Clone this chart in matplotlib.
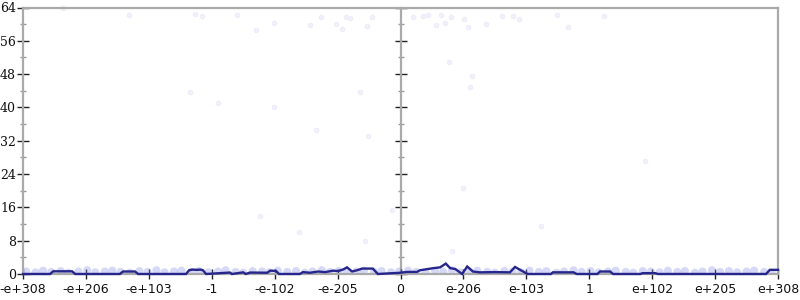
import numpy as np
import matplotlib
matplotlib.use("Agg")
import matplotlib.pyplot as plt
from matplotlib.ticker import MultipleLocator

# x axis is an ordinal scale of float magnitudes, one unit per label
tick_pos = [-6, -5, -4, -3, -2, -1, 0, 1, 2, 3, 4, 5, 6]
tick_labels = ['-e+308', '-e+206', '-e+103', '-1', '-e-102', '-e-205', '0',
               'e-206', 'e-103', '1', 'e+102', 'e+205', 'e+308']

# smoothed count line
line_x = [-6.0, -5.57, -5.52, -5.22, -5.17, -4.46, -4.41, -4.22, -4.17, -3.41,
          -3.36, -3.31, -3.23, -3.18, -3.14, -3.09, -2.98, -2.71, -2.68, -2.50,
          -2.46, -2.39, -2.12, -2.07, -1.98, -1.93, -1.60, -1.55, -1.44, -1.31,
          -1.20, -1.07, -0.99, -0.91, -0.85, -0.77, -0.69, -0.61, -0.44, -0.36,
          0.0, 0.10, 0.26, 0.31, 0.52, 0.63, 0.72, 0.79, 0.87, 0.98,
          1.06, 1.15, 1.26, 1.50, 1.74, 1.82, 1.90, 2.02, 2.39, 2.42,
          2.75, 2.80, 3.13, 3.17, 3.33, 3.38, 3.81, 3.85, 4.05, 4.09,
          5.81, 5.87, 6.0]
line_y = [0.0, 0.0, 0.65, 0.65, 0.0, 0.0, 0.6, 0.6, 0.0, 0.0,
          0.9, 1.05, 1.0, 1.05, 0.9, 0.0, 0.1, 0.35, 0.0, 0.4,
          0.0, 0.35, 0.3, 0.8, 0.75, 0.0, 0.0, 0.45, 0.3, 0.6,
          0.45, 0.8, 0.7, 1.1, 1.6, 0.6, 0.9, 1.3, 1.3, 0.0,
          0.3, 0.5, 0.5, 0.9, 1.4, 1.6, 2.5, 1.4, 1.2, 0.0,
          1.8, 0.6, 0.4, 0.45, 0.4, 1.7, 1.0, 0.0, 0.0, 0.4,
          0.4, 0.0, 0.0, 0.6, 0.6, 0.0, 0.0, 0.2, 0.2, 0.0,
          0.0, 1.0, 1.0]

# sparse raw samples high up
pts_x = [-5.36, -4.31, -3.26, -3.15, -2.60, -2.29, -2.01, -1.44, -1.26, -1.03,
         -0.93, -0.87, -0.80, -0.53, -0.46, -3.34, -2.90, -2.01, -0.64, -1.34,
         -0.52, -2.23, -1.61, -0.56, -0.14,
         0.20, 0.35, 0.43, 0.65, 0.80, 1.01, 0.56, 0.71, 1.08, 1.36,
         1.61, 1.79, 1.88, 2.48, 2.66, 3.24, 0.77, 1.13, 1.11, 3.88,
         0.99, 2.23, 0.82]
pts_y = [63.9, 62.2, 62.5, 61.9, 62.1, 58.7, 60.2, 59.7, 61.8, 60.1,
         58.8, 61.8, 61.5, 59.6, 61.8, 43.7, 41.0, 40.2, 43.6, 34.7,
         33.1, 14.0, 10.2, 7.9, 15.4,
         61.6, 61.9, 62.3, 62.1, 61.8, 61.2, 59.9, 60.2, 59.2, 60.1,
         62.0, 61.9, 61.2, 62.2, 59.4, 62.0, 50.8, 47.5, 44.8, 27.1,
         20.7, 11.5, 5.5]

# dense raw samples near zero
band_x = [-5.95, -5.8, -5.68, -5.55, -5.4, -5.28, -5.12, -4.98, -4.85, -4.7,
          -4.58, -4.45, -4.3, -4.15, -4.02, -3.88, -3.75, -3.6, -3.48, -3.32,
          -3.2, -3.05, -2.9, -2.78, -2.62, -2.5, -2.35, -2.2, -2.08, -1.95,
          -1.8, -1.66, -1.52, -1.4, -1.25, -1.12, -0.98, -0.85, -0.7, -0.58,
          -0.42, -0.3, -0.15, -0.02, 0.12, 0.25, 0.4, 0.55, 0.68, 0.82,
          0.95, 1.1, 1.22, 1.38, 1.5, 1.65, 1.78, 1.92, 2.05, 2.2,
          2.32, 2.48, 2.6, 2.75, 2.88, 3.02, 3.15, 3.3, 3.42, 3.58,
          3.7, 3.85, 3.98, 4.12, 4.25, 4.4, 4.52, 4.68, 4.8, 4.95,
          5.08, 5.22, 5.35, 5.5, 5.62, 5.78, 5.9]
band_y = [0.6, 0.4, 0.8, 0.5, 0.7, 0.3, 0.6, 0.9, 0.4, 0.6,
          0.8, 0.5, 0.3, 0.7, 0.5, 0.9, 0.4, 0.6, 0.8, 0.5,
          0.7, 0.4, 0.6, 0.9, 0.5, 0.3, 0.7, 0.6, 0.4, 0.8,
          0.5, 0.7, 0.3, 0.6, 0.9, 0.5, 0.7, 0.4, 0.6, 0.8,
          0.5, 0.7, 0.4, 0.6, 0.8, 0.5, 0.3, 0.7, 0.5, 0.9,
          0.4, 0.6, 0.8, 0.5, 0.3, 0.7, 0.6, 0.4, 0.8, 0.5,
          0.7, 0.3, 0.6, 0.9, 0.5, 0.7, 0.4, 0.6, 0.8, 0.5,
          0.3, 0.7, 0.6, 0.4, 0.8, 0.5, 0.7, 0.3, 0.6, 0.9,
          0.5, 0.7, 0.4, 0.6, 0.8, 0.5, 0.3]

fig = plt.figure(figsize=(8, 3), dpi=100)
ax = fig.add_axes([23 / 800, 26 / 300, 755 / 800, 266.5 / 300])

ax.scatter(pts_x, pts_y, s=12, color='#f1f1fc', edgecolors='#ebebfa',
           linewidths=0.5, zorder=2, clip_on=False)
ax.scatter(band_x, band_y, s=34, marker='o', color='#8a90ea', alpha=0.35,
           edgecolors='none', zorder=2, clip_on=True)
ax.plot(line_x, line_y, color='#26268c', linewidth=1.7, zorder=4,
        solid_joinstyle='miter', clip_on=False)

ax.set_xlim(-6, 6)
ax.set_ylim(0, 64)

ax.set_xticks(tick_pos)
ax.set_xticklabels(tick_labels, fontsize=9, family='DejaVu Sans')
ax.yaxis.set_major_locator(MultipleLocator(8))
ax.yaxis.set_minor_locator(MultipleLocator(4))
for lab in ax.get_yticklabels():
    lab.set_family('DejaVu Serif')
    lab.set_fontsize(9)

for side in ['left', 'right', 'top', 'bottom']:
    ax.spines[side].set_color('#aaaaaa')
    ax.spines[side].set_linewidth(1.6)

ax.tick_params(axis='x', direction='inout', length=7, width=1, color='#222222',
               pad=3, labelcolor='#111111')
ax.tick_params(axis='y', which='major', direction='inout', length=8, width=1,
               color='#222222', pad=1, right=True, labelcolor='#111111')
ax.tick_params(axis='y', which='minor', direction='inout', length=4, width=1,
               color='#999999', right=True)

# middle axis at zero
mid = ax.twinx()
mid.set_ylim(0, 64)
mid.spines['right'].set_position(('data', 0))
mid.spines['right'].set_color('#aaaaaa')
mid.spines['right'].set_linewidth(1.6)
for side in ['left', 'top', 'bottom']:
    mid.spines[side].set_visible(False)
mid.yaxis.set_major_locator(MultipleLocator(8))
mid.yaxis.set_minor_locator(MultipleLocator(4))
mid.tick_params(axis='y', which='major', direction='inout', length=8, width=1,
                color='#222222', labelright=False)
mid.tick_params(axis='y', which='minor', direction='inout', length=4, width=1,
                color='#999999')
mid.set_zorder(0)
ax.set_zorder(1)
ax.patch.set_visible(False)

fig.savefig('out.png', dpi=100)
